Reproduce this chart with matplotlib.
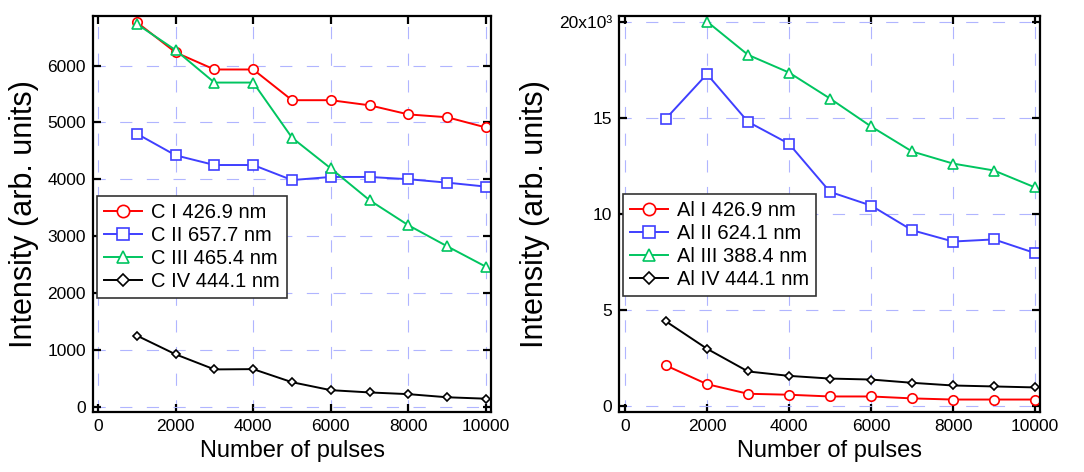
import matplotlib
matplotlib.use("Agg")
import matplotlib.pyplot as plt
from matplotlib.ticker import MultipleLocator, FuncFormatter

plt.rcParams['font.family'] = ['Liberation Sans', 'DejaVu Sans']

pulses = [1000, 2000, 3000, 4000, 5000, 6000, 7000, 8000, 9000, 10000]

# Carbon emission lines
c_labels = ["C I 426.9 nm", "C II 657.7 nm", "C III 465.4 nm", "C IV 444.1 nm"]
c1 = [6760, 6230, 5930, 5930, 5390, 5390, 5300, 5140, 5090, 4910]
c2 = [4800, 4420, 4250, 4250, 3985, 4040, 4040, 4000, 3940, 3870]
c3 = [6730, 6270, 5700, 5700, 4730, 4190, 3630, 3190, 2820, 2460]
c4 = [1250, 920, 655, 660, 430, 290, 250, 220, 165, 140]

# Aluminium emission lines (Al III has no point at 1000 pulses)
al_labels = ["Al I 426.9 nm", "Al II 624.1 nm", "Al III 388.4 nm", "Al IV 444.1 nm"]
al1 = [2130, 1160, 660, 610, 520, 520, 420, 360, 360, 360]
al2 = [14960, 17270, 14790, 13650, 11150, 10440, 9160, 8570, 8680, 7970]
al3_pulses = [2000, 3000, 4000, 5000, 6000, 7000, 8000, 9000, 10000]
al3 = [20000, 18270, 17350, 16000, 14550, 13250, 12620, 12260, 11380]
al4 = [4420, 3000, 1820, 1590, 1450, 1400, 1230, 1090, 1040, 990]

colors = ["#ff0000", "#3f3fff", "#00c560", "#000000"]
markers = ["o", "s", "^", "D"]
msizes = [6.8, 6.8, 6.8, 4.5]

fig = plt.figure(figsize=(10.84, 4.72), dpi=100)
ax1 = fig.add_axes([0.0858, 0.127, 0.3672, 0.839])
ax2 = fig.add_axes([0.5710, 0.127, 0.3884, 0.840])


def style_axes(ax):
    for sp in ax.spines.values():
        sp.set_linewidth(1.6)
        sp.set_color("black")
    ax.tick_params(which="major", direction="in", length=6, width=1.6,
                   top=True, right=True, labelsize=12.5, pad=5)
    ax.xaxis.set_major_locator(MultipleLocator(2000))
    ax.grid(True, color="#b0b5ff", linewidth=0.8, linestyle=(0, (11, 13)))
    ax.set_axisbelow(True)
    ax.set_xlabel("Number of pulses", fontsize=17, labelpad=4)
    ax.set_ylabel("Intensity (arb. units)", fontsize=22, labelpad=6)


def draw_series(ax, xs_list, ys_list, labels):
    for xs, ys, lab, c, m, ms in zip(xs_list, ys_list, labels, colors, markers, msizes):
        ax.plot(xs, ys, color=c, marker=m, markersize=ms, markerfacecolor="white",
                markeredgecolor=c, markeredgewidth=1.2, linewidth=1.4, label=lab)


def add_legend(ax, anchor):
    leg = ax.legend(loc="upper left", bbox_to_anchor=anchor, borderaxespad=0,
                    fontsize=14.5, frameon=True, fancybox=False, framealpha=1,
                    edgecolor="#333333", handlelength=1.9, handletextpad=0.45,
                    labelspacing=0.2, borderpad=0.35, markerscale=1.3)
    leg.get_frame().set_linewidth(1.2)


# Carbon panel
draw_series(ax1, [pulses] * 4, [c1, c2, c3, c4], c_labels)
style_axes(ax1)
ax1.set_xlim(-130, 10130)
ax1.set_ylim(-95, 6870)
ax1.yaxis.set_major_locator(MultipleLocator(1000))
add_legend(ax1, (0.009, 0.546))

# Aluminium panel
draw_series(ax2, [pulses, pulses, al3_pulses, pulses], [al1, al2, al3, al4], al_labels)
style_axes(ax2)
ax2.set_xlim(-146, 10120)
ax2.set_ylim(-290, 20310)
ax2.yaxis.set_major_locator(MultipleLocator(5000))
ax2.yaxis.set_major_formatter(FuncFormatter(
    lambda v, p: "20x10³" if abs(v - 20000) < 1 else f"{v / 1000:g}"))
add_legend(ax2, (0.009, 0.550))

fig.savefig("out.png", dpi=100)
